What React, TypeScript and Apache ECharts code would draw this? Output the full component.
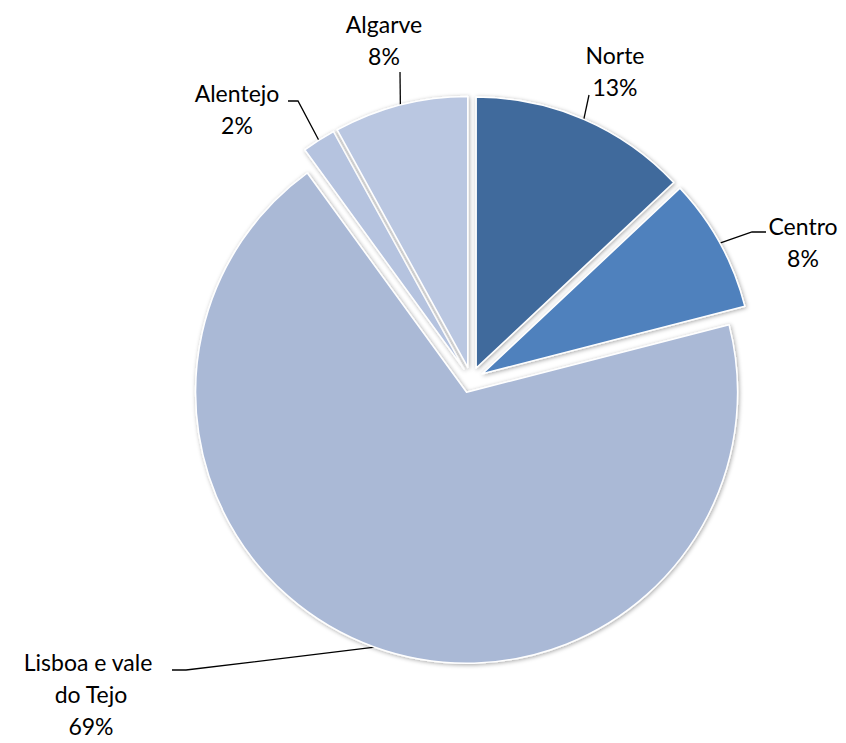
import React, { useEffect, useRef } from "react";
import * as echarts from "echarts";

const categories = ["Norte", "Centro", "Lisboa e vale do Tejo", "Alentejo", "Algarve"];
const values = [13, 8, 69, 2, 8];
const colors = ["#416A9C", "#4F81BD", "#AAB9D6", "#B5C3DF", "#BAC7E1"];

// layout constants
const CX = 471;
const CY = 380;
const R = 271;
const EXPLODE = 13;
const labelPos: number[][] = [
  [615, 71],
  [803, 242],
  [91, 694],
  [237, 109],
  [384, 40],
];
const elbows: number[][][] = [
  [[589, 95], [589, 95]],
  [[752, 232], [766, 232]],
  [[186, 670], [172, 670]],
  [[298, 101], [288, 101]],
  [[400, 72], [400, 72]],
];

export default function App() {
  const ref = useRef<HTMLDivElement>(null);
  useEffect(() => {
    if (!ref.current) return;
    document.body.style.margin = "0";
    const chart = echarts.init(ref.current, undefined, { renderer: "svg" });
    const total = values.reduce((a, b) => a + b, 0);
    let cum = 0;
    const series: any[] = values.map((v, i) => {
      const mid = ((cum + v / 2) / total) * Math.PI * 2;
      cum += v;
      const dx = Math.sin(mid);
      const dy = -Math.cos(mid);
      const cx = CX + EXPLODE * dx;
      const cy = CY + EXPLODE * dy;
      const start = [cx + R * dx, cy + R * dy];
      return {
        type: "pie",
        center: [cx, cy],
        radius: [0, R],
        startAngle: 90,
        clockwise: true,
        silent: true,
        emphasis: { disabled: true },
        labelLayout: () => ({
          x: labelPos[i][0],
          y: labelPos[i][1],
          align: "center",
          verticalAlign: "middle",
          labelLinePoints: [start, elbows[i][0], elbows[i][1]],
        }),
        data: categories.map((name, j) => {
          if (j !== i) {
            return {
              name,
              value: values[j],
              itemStyle: { color: "rgba(0,0,0,0)", borderWidth: 0, shadowBlur: 0 },
              label: { show: false },
              labelLine: { show: false },
            };
          }
          return {
            name,
            value: values[j],
            itemStyle: {
              color: colors[j],
              borderColor: "#ffffff",
              borderWidth: 1.5,
              shadowBlur: 4,
              shadowColor: "rgba(0,0,0,0.35)",
              shadowOffsetX: 1,
              shadowOffsetY: 1,
            },
            label: {
              show: true,
              position: "outside",
              formatter: (p: any) => `${p.name}\n${Math.round(p.percent)}%`,
              fontFamily: "Lato",
              fontSize: 23,
              lineHeight: 32,
              color: "#000000",
              width: 155,
              overflow: "break",
              align: "center",
            },
            labelLine: {
              show: true,
              lineStyle: { color: "#000000", width: 1.3 },
            },
          };
        }),
      };
    });
    chart.setOption({
      animation: false,
      backgroundColor: "#ffffff",
      series,
    });
    return () => chart.dispose();
  }, []);
  return (
    <div
      ref={ref}
      style={{ position: "absolute", left: 0, top: 0, width: 846, height: 743 }}
    />
  );
}
